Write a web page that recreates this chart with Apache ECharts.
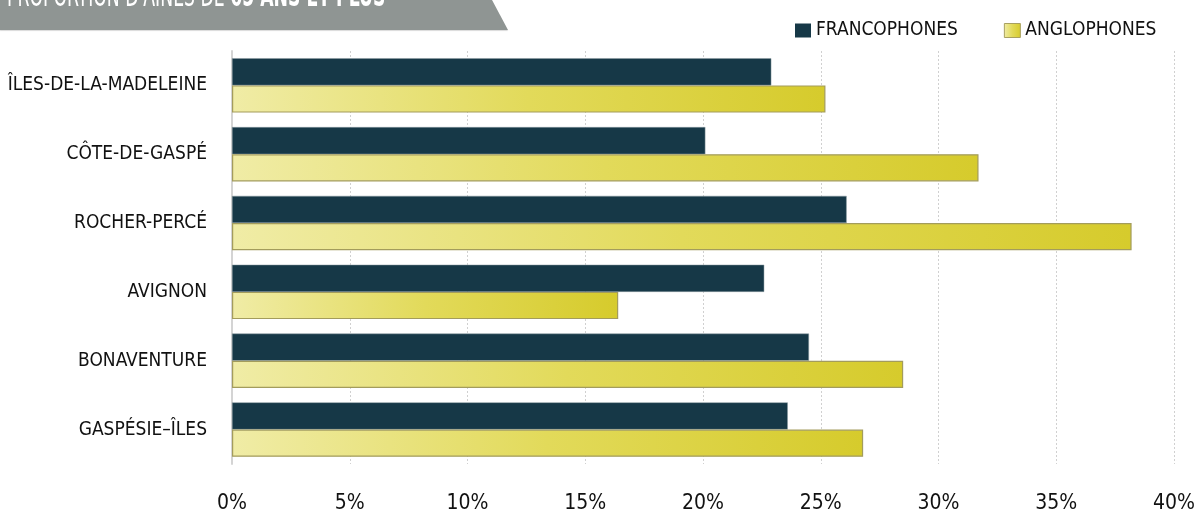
<!DOCTYPE html>
<html>
<head>
<meta charset="utf-8">
<script src="https://cdn.jsdelivr.net/npm/echarts@6/dist/echarts.min.js"></script>
<style>
    html, body { margin: 0; padding: 0; background: #fff; }
    #chart { width: 1194px; height: 512px; }
</style>
</head>
<body>
<div id="chart"></div>
<script type="text/javascript">
// Proportion d'aînés de 65 ans et plus, francophones / anglophones
var regions = ['ÎLES-DE-LA-MADELEINE', 'CÔTE-DE-GASPÉ', 'ROCHER-PERCÉ', 'AVIGNON', 'BONAVENTURE', 'GASPÉSIE–ÎLES']
var francophones = [22.9, 20.1, 26.1, 22.6, 24.5, 23.6]
var anglophones = [25.2, 31.7, 38.2, 16.4, 28.5, 26.8]
var seriesNames = ['FRANCOPHONES', 'ANGLOPHONES']
var xTicks = [0, 5, 10, 15, 20, 25, 30, 35, 40]

var font = "'Liberation Sans Narrow', 'DejaVu Sans Condensed', sans-serif"

var yellowFill = new echarts.graphic.LinearGradient(0, 0, 1, 0, [
    { offset: 0, color: '#f0eca6' },
    { offset: 0.5, color: '#e2da5a' },
    { offset: 1, color: '#d6cb2c' }
])

var option = {
    animation: false,
    textStyle: { fontFamily: font },
    graphic: [
        {
            type: 'polygon',
            shape: { points: [[0, 0], [492, 0], [508, 30], [0, 30]] },
            style: { fill: '#8f9593', shadowColor: 'rgba(0,0,0,0.15)', shadowOffsetY: 1, shadowBlur: 1 }
        },
        {
            type: 'text',
            x: 7,
            y: -18,
            scaleX: 0.6,
            style: {
                text: '{a|PROPORTION D\'AÎNÉS DE }{b|65 ANS ET PLUS}',
                fill: '#ffffff',
                rich: {
                    a: { fontFamily: font, fontSize: 32, fontWeight: 'normal', fill: '#ffffff' },
                    b: { fontFamily: font, fontSize: 32, fontWeight: 'bold', fill: '#ffffff' }
                }
            }
        }
    ],
    legend: {
        data: [
            { name: seriesNames[0], itemStyle: { color: '#163847', borderWidth: 0 } },
            { name: seriesNames[1], itemStyle: { color: yellowFill, borderColor: '#a8a060', borderWidth: 1 } }
        ],
        left: 790,
        top: 16,
        width: 400,
        orient: 'horizontal',
        itemWidth: 16,
        itemHeight: 14,
        itemGap: 46,
        icon: 'rect',
        textStyle: { fontFamily: font, fontSize: 19, color: '#111' }
    },
    grid: {
        left: 232,
        right: 20,
        top: 51,
        bottom: 48,
        containLabel: false,
        outerBoundsMode: 'none'
    },
    xAxis: {
        type: 'value',
        min: 0,
        max: 40,
        interval: 5,
        axisLine: { show: false },
        axisTick: { show: false },
        splitLine: { show: true, lineStyle: { color: '#d0d0d0', type: [2, 2], width: 1 } },
        axisLabel: {
            margin: 29,
            fontFamily: font,
            fontSize: 21,
            color: '#111',
            formatter: function (v) { return xTicks.indexOf(v) >= 0 ? v + '%' : '' }
        }
    },
    yAxis: {
        type: 'category',
        inverse: true,
        data: regions,
        axisLine: { show: true, lineStyle: { color: '#d4d4d4', width: 2 } },
        axisTick: { show: false },
        axisLabel: {
            margin: 25,
            fontFamily: font,
            fontSize: 19,
            color: '#111'
        }
    },
    series: [
        {
            name: seriesNames[0],
            type: 'bar',
            data: francophones,
            barGap: '0%',
            barCategoryGap: '21%',
            itemStyle: { color: '#163847', borderColor: '#8a9aa0', borderWidth: 0.5 }
        },
        {
            name: seriesNames[1],
            type: 'bar',
            data: anglophones,
            barGap: '0%',
            barCategoryGap: '21%',
            itemStyle: { color: yellowFill, borderColor: '#a39c5c', borderWidth: 1.2 }
        }
    ]
}

var myChart = echarts.init(document.getElementById('chart'))
myChart.setOption(option)
</script>
</body>
</html>
